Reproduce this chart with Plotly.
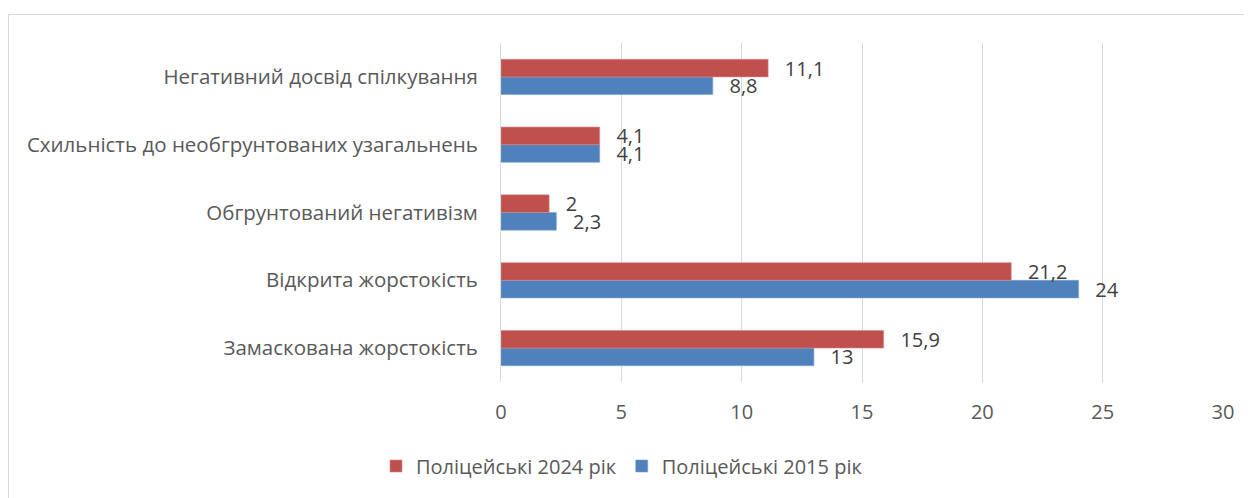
import plotly.graph_objects as go

categories = [
    "Замаскована жорстокість",
    "Відкрита жорстокість",
    "Обгрунтований негативізм",
    "Схильність до необгрунтованих узагальнень",
    "Негативний досвід спілкування",
]
police_2015 = [13, 24, 2.3, 4.1, 8.8]
police_2024 = [15.9, 21.2, 2, 4.1, 11.1]
x_ticks = [0, 5, 10, 15, 20, 25, 30]

def fmt(v):
    s = ("%g" % v).replace(".", ",")
    return "  \u2009" + s

FONT = "Open Sans"
TXT = "#595959"

fig = go.Figure()
fig.add_trace(go.Bar(
    y=categories, x=police_2015, orientation="h", name="Поліцейські 2015 рік",
    marker=dict(color="#4F81BD", line=dict(color="#7a9fd0", width=0.6)),
    text=[fmt(v) for v in police_2015], textposition="outside",
    textfont=dict(family=FONT, size=20, color="#404040"), cliponaxis=False,
    constraintext="none",
))
fig.add_trace(go.Bar(
    y=categories, x=police_2024, orientation="h", name="Поліцейські 2024 рік",
    marker=dict(color="#C0504D", line=dict(color="#d58a88", width=0.6)),
    text=[fmt(v) for v in police_2024], textposition="outside",
    textfont=dict(family=FONT, size=20, color="#404040"), cliponaxis=False,
    constraintext="none",
))

# page body adds an 8px offset
OFF = 8
W, H = 1244, 490
L, R, T, B = 501 - OFF, W - (1223 - OFF), 43 - OFF, H - (382 - OFF)
pw, ph = W - L - R, H - T - B

fig.update_layout(
    width=W, height=H,
    margin=dict(l=L, r=R, t=T, b=B, pad=0),
    paper_bgcolor="white", plot_bgcolor="white",
    barmode="group", bargap=0.48, bargroupgap=0,
    font=dict(family=FONT, size=20, color=TXT),
    legend=dict(
        orientation="h", traceorder="reversed",
        xref="container", yref="container",
        x=(622 - OFF) / W, y=1 - (466 - OFF) / H, xanchor="center", yanchor="middle",
        font=dict(family=FONT, size=20, color=TXT),
    ),
    xaxis=dict(
        range=[0, 30], tickvals=x_ticks, showgrid=True, gridcolor="#d9d9d9",
        gridwidth=1, zeroline=False, showline=False,
        tickfont=dict(family=FONT, size=20, color=TXT),
        ticklabelstandoff=16, fixedrange=True,
    ),
    yaxis=dict(
        categoryorder="array", categoryarray=categories,
        showline=True, linecolor="#d9d9d9", linewidth=1,
        tickfont=dict(family=FONT, size=20.5, color=TXT),
        ticklabelstandoff=18, showgrid=False,
    ),
    shapes=[dict(
        type="rect", xref="paper", yref="paper",
        x0=(8.5 - OFF - L) / pw, x1=2, y0=-2, y1=1 + (T - (14.5 - OFF)) / ph,
        line=dict(color="#d9d9d9", width=1), fillcolor="rgba(0,0,0,0)",
        layer="below",
    )],
)

fig.write_html("out.html")
